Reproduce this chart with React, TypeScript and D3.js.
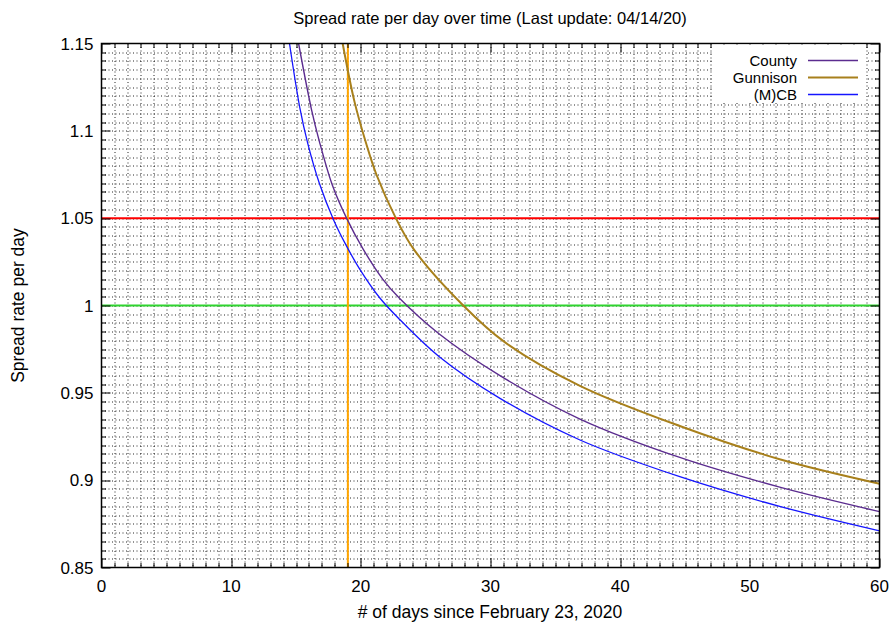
import { useRef, useEffect } from 'react'
import * as d3 from 'd3'

// values (day since Feb 23, 2020 -> spread rate per day)
const countyDays = [15.2, 16.2, 16.8, 17.8, 18.9, 20.2, 21.7, 23.0, 26.0, 30.7, 36.9, 44.6, 52.3, 60]
const countyRate = [1.15, 1.112, 1.094, 1.069, 1.05, 1.032, 1.015, 1.004, 0.984, 0.96, 0.935, 0.913, 0.896, 0.882]

const gunnisonDays = [18.6, 19.5, 20.4, 21.2, 22.7, 24.1, 27.9, 31.1, 36.9, 44.6, 52.3, 60]
const gunnisonRate = [1.15, 1.117, 1.093, 1.075, 1.05, 1.032, 1.0, 0.979, 0.954, 0.931, 0.912, 0.898]

const mcbDays = [14.5, 15.3, 15.9, 16.8, 17.9, 18.9, 19.9, 21.5, 23.0, 26.0, 30.7, 36.9, 44.6, 52.3, 60]
const mcbRate = [1.15, 1.113, 1.093, 1.07, 1.049, 1.034, 1.021, 1.004, 0.992, 0.971, 0.947, 0.923, 0.902, 0.885, 0.871]

const xTicks = [0, 10, 20, 30, 40, 50, 60]
const yTicks = [0.85, 0.9, 0.95, 1, 1.05, 1.1, 1.15]

const redLevel = 1.05
const greenLevel = 1
const markerDay = 19

const series = [
  { name: 'County', days: countyDays, rate: countyRate, color: '#5b2c8f', width: 1.4 },
  { name: 'Gunnison', days: gunnisonDays, rate: gunnisonRate, color: '#a8801c', width: 2 },
  { name: '(M)CB', days: mcbDays, rate: mcbRate, color: '#1515ff', width: 1.3 },
]

const W = 893
const H = 626
const margin = { left: 101.5, right: 13.5, top: 43.5, bottom: 58.5 }
const FONT = '"Liberation Sans", Arial, Helvetica, sans-serif'

export default function App() {
  const svgRef = useRef<SVGSVGElement>(null)

  useEffect(() => {
    if (!svgRef.current) return
    const bw = W - margin.left - margin.right
    const bh = H - margin.top - margin.bottom

    const svg = d3.select(svgRef.current)
    svg.selectAll('*').remove()

    svg.append('rect').attr('width', W).attr('height', H).attr('fill', '#fff')

    const g = svg.append('g').attr('transform', `translate(${margin.left},${margin.top})`)

    const x = d3.scaleLinear().domain([0, 60]).range([0, bw])
    const y = d3.scaleLinear().domain([0.85, 1.15]).range([bh, 0])

    const xMinor = d3.range(0, 61, 1)
    const yMinor = d3.range(0, 61, 1).map((i) => 0.85 + i * 0.005)

    // dotted grid on every minor tick
    const grid = g.append('g').attr('stroke', '#000').attr('stroke-opacity', 0.85).attr('stroke-width', 1).attr('stroke-dasharray', '1,2.5')
    grid
      .selectAll('line.gx')
      .data(xMinor.slice(1, -1))
      .join('line')
      .attr('class', 'gx')
      .attr('x1', (d) => Math.round(x(d)) + 0.5)
      .attr('x2', (d) => Math.round(x(d)) + 0.5)
      .attr('y1', 0)
      .attr('y2', bh)
    grid
      .selectAll('line.gy')
      .data(yMinor.slice(1, -1))
      .join('line')
      .attr('class', 'gy')
      .attr('x1', 0)
      .attr('x2', bw)
      .attr('y1', (d) => Math.round(y(d)) + 0.5)
      .attr('y2', (d) => Math.round(y(d)) + 0.5)

    // reference lines
    g.append('line').attr('x1', 0).attr('x2', bw).attr('y1', y(redLevel)).attr('y2', y(redLevel)).attr('stroke', '#ff0000').attr('stroke-width', 2)
    g.append('line').attr('x1', 0).attr('x2', bw).attr('y1', y(greenLevel)).attr('y2', y(greenLevel)).attr('stroke', '#2fd42f').attr('stroke-width', 2)
    g.append('line').attr('x1', x(markerDay)).attr('x2', x(markerDay)).attr('y1', 0).attr('y2', bh).attr('stroke', '#ffa500').attr('stroke-width', 2)

    // clip for the curves
    svg.append('defs').append('clipPath').attr('id', 'plot-clip').append('rect').attr('width', bw).attr('height', bh)

    const line = d3
      .line<[number, number]>()
      .x((d) => x(d[0]))
      .y((d) => y(d[1]))
      .curve(d3.curveCatmullRom.alpha(0.5))

    series.forEach((s) => {
      const pts = s.days.map((d, i) => [d, s.rate[i]] as [number, number])
      g.append('path')
        .datum(pts)
        .attr('clip-path', 'url(#plot-clip)')
        .attr('fill', 'none')
        .attr('stroke', s.color)
        .attr('stroke-width', s.width)
        .attr('d', line)
    })

    // ticks, inward, mirrored on all four sides
    const ticks = g.append('g').attr('stroke', '#000').attr('stroke-width', 1)
    const tickLen = (major: boolean) => (major ? 9 : 4.5)
    xMinor.forEach((d) => {
      const major = d % 10 === 0
      const px = Math.round(x(d)) + 0.5
      ticks.append('line').attr('x1', px).attr('x2', px).attr('y1', bh).attr('y2', bh - tickLen(major))
      ticks.append('line').attr('x1', px).attr('x2', px).attr('y1', 0).attr('y2', tickLen(major))
    })
    yMinor.forEach((d, i) => {
      const major = i % 10 === 0
      const py = Math.round(y(d)) + 0.5
      ticks.append('line').attr('x1', 0).attr('x2', tickLen(major)).attr('y1', py).attr('y2', py)
      ticks.append('line').attr('x1', bw).attr('x2', bw - tickLen(major)).attr('y1', py).attr('y2', py)
    })

    // frame
    g.append('rect').attr('width', bw).attr('height', bh).attr('fill', 'none').attr('stroke', '#000').attr('stroke-width', 1.5)

    // tick labels
    g.selectAll('text.xt')
      .data(xTicks)
      .join('text')
      .attr('class', 'xt')
      .attr('x', (d) => x(d))
      .attr('y', bh + 24.5)
      .attr('text-anchor', 'middle')
      .attr('font-size', 17)
      .text((d) => d3.format('d')(d))
    g.selectAll('text.yt')
      .data(yTicks)
      .join('text')
      .attr('class', 'yt')
      .attr('x', -8)
      .attr('y', (d) => y(d) + 6)
      .attr('text-anchor', 'end')
      .attr('font-size', 17)
      .text((d) => String(+d.toFixed(2)))

    // legend
    const leg = g.append('g')
    leg.append('rect').attr('x', 712 - margin.left).attr('y', 1).attr('width', 154).attr('height', 57).attr('fill', '#fff')
    series.forEach((s, i) => {
      const ly = 60.5 - margin.top + i * 17
      leg.append('text').attr('x', 797 - margin.left).attr('y', ly + 5.5).attr('text-anchor', 'end').attr('font-size', 15).text(s.name)
      leg
        .append('line')
        .attr('x1', 808 - margin.left)
        .attr('x2', 858 - margin.left)
        .attr('y1', ly)
        .attr('y2', ly)
        .attr('stroke', s.color)
        .attr('stroke-width', s.width)
    })

    // titles
    svg.append('text').attr('x', 490).attr('y', 24).attr('text-anchor', 'middle').attr('font-size', 16.5).text('Spread rate per day over time (Last update: 04/14/20)')
    svg.append('text').attr('x', 490).attr('y', 618).attr('text-anchor', 'middle').attr('font-size', 17.5).text('# of days since February 23, 2020')
    svg
      .append('text')
      .attr('transform', `translate(24,${margin.top + bh / 2}) rotate(-90)`)
      .attr('text-anchor', 'middle')
      .attr('font-size', 17.5)
      .text('Spread rate per day')

    svg.selectAll('text').attr('font-family', FONT).attr('fill', '#000')
  }, [])

  return <svg ref={svgRef} width={W} height={H} style={{ position: 'absolute', left: 0, top: 0 }} />
}
